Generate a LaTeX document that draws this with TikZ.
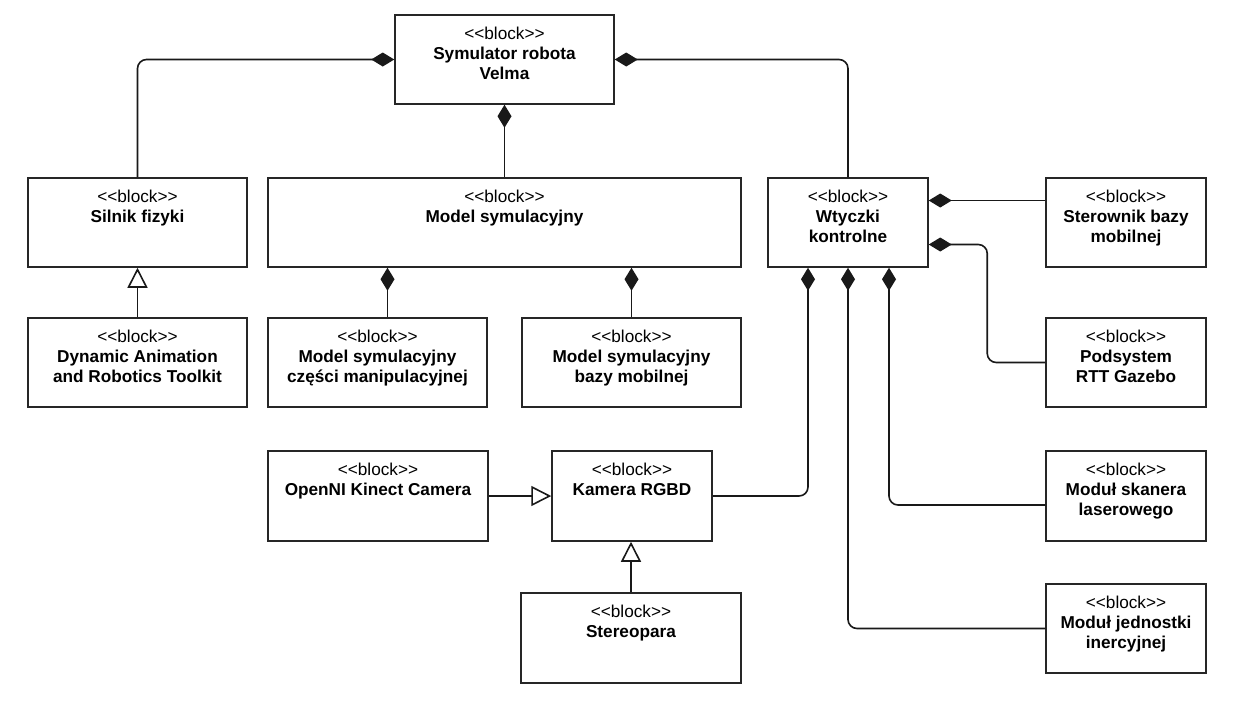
\documentclass[tikz,border=0pt]{standalone}
\usepackage{fontspec}
\setmainfont{Liberation Sans}
\usetikzlibrary{arrows.meta,fit,calc}
\newcommand\myblock[6]{%
  \node[box, fit={(#2,#3)(#4,#5)}] (#1) {};
  \node[lbl] (#1t) at ([yshift=-12.5pt]#1.north) {{<}{<}block{>}{>}\\ #6};
}
\tikzset{
  box/.style={draw=black!85, line width=1.5pt, inner sep=0pt, fill=white},
  lbl/.style={anchor=north, inner sep=0pt, align=center, font=\fontsize{17.2}{19.8}\selectfont},
  comp/.style={draw=black!90, line width=1.6pt, rounded corners=9pt, {Diamond[length=23pt,width=14pt]}-},
  gen/.style={draw=black!90, line width=1.6pt, -{Triangle[open,length=20pt,width=20pt,fill=white]}}
}
\begin{document}
\begin{tikzpicture}[x=1pt,y=-1pt]
\fill[white] (0,0) rectangle (1236,702);
\useasboundingbox (0,0) rectangle (1236,702);

\myblock{sym}{395}{15}{614}{104}{\textbf{Symulator robota}\\ \textbf{Velma}}
\myblock{sil}{28}{178}{247}{267}{\textbf{Silnik fizyki}}
\myblock{ms}{268}{178}{741}{267}{\textbf{Model symulacyjny}}
\myblock{wt}{768}{178}{928}{267}{\textbf{Wtyczki}\\ \textbf{kontrolne}}
\myblock{ster}{1046}{178}{1206}{267}{\textbf{Sterownik bazy}\\ \textbf{mobilnej}}
\myblock{dyn}{28}{318}{247}{407}{\textbf{Dynamic Animation}\\ \textbf{and Robotics Toolkit}}
\myblock{mm}{268}{318}{487}{407}{\textbf{Model symulacyjny}\\ \textbf{części manipulacyjnej}}
\myblock{mb}{522}{318}{741}{407}{\textbf{Model symulacyjny}\\ \textbf{bazy mobilnej}}
\myblock{pod}{1046}{318}{1206}{407}{\textbf{Podsystem}\\ \textbf{RTT Gazebo}}
\myblock{open}{268}{451}{488}{541}{\textbf{OpenNI Kinect Camera}}
\myblock{kam}{552}{451}{712}{541}{\textbf{Kamera RGBD}}
\myblock{skan}{1046}{451}{1206}{541}{\textbf{Moduł skanera}\\ \textbf{laserowego}}
\myblock{st}{521}{593}{741}{683}{\textbf{Stereopara}}
\myblock{jed}{1046}{584}{1206}{673}{\textbf{Moduł jednostki}\\ \textbf{inercyjnej}}

% composition from Symulator
\draw[comp] (sym.west) -| (sil.north);
\draw[comp] (sym.east) -| (wt.north);
\draw[comp] (sym.south) -- (ms.north);

% composition from Model symulacyjny
\coordinate (m1) at ($(mm.north)+(10,0)$);
\draw[comp] (m1 |- ms.south) -- (m1);
\draw[comp] (mb.north |- ms.south) -- (mb.north);

% composition from Wtyczki
\coordinate (w1) at ($(wt.east)+(0,-22)$);
\coordinate (w2) at ($(wt.east)+(0,22)$);
\coordinate (b1) at ($(wt.south)+(-40,0)$);
\coordinate (b2) at (wt.south);
\coordinate (b3) at ($(wt.south)+(41,0)$);
\coordinate (p1) at ($(pod.west)+(-58,0)$);
\coordinate (s1) at ($(skan.west)+(0,9)$);
\draw[comp] (w1) -- (w1 -| ster.west);
\draw[comp] (w2) -| (p1) -- (pod.west);
\draw[comp] (b1) |- (kam.east);
\draw[comp] (b2) |- (jed.west);
\draw[comp] (b3) |- (s1);

% generalization
\draw[gen] (dyn.north) -- (sil.south);
\draw[gen] (open.east) -- (kam.west);
\draw[gen] (st.north) -- (st.north |- kam.south);
\end{tikzpicture}
\end{document}
